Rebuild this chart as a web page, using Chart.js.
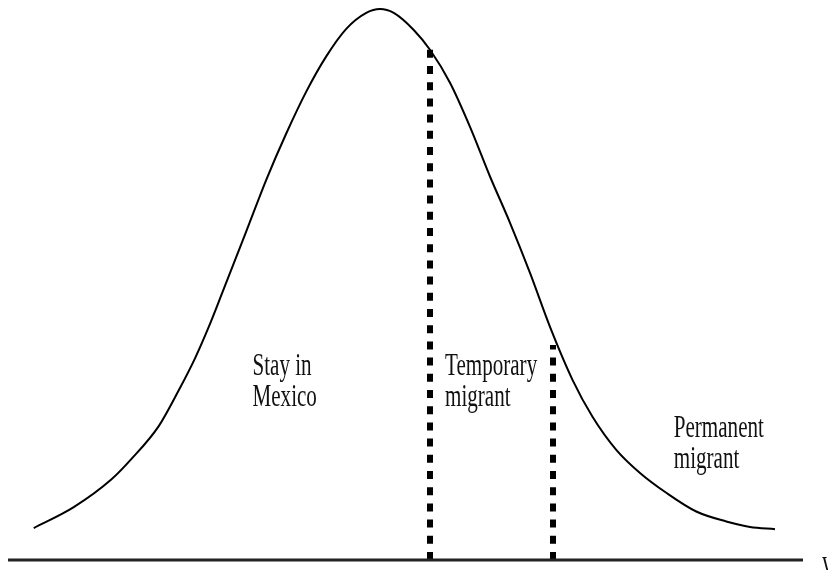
<!DOCTYPE html>
<html>
<head>
<meta charset="utf-8">
<script src="https://cdn.jsdelivr.net/npm/chart.js@4.4.1/dist/chart.umd.min.js"></script>
<style>
  html, body { margin: 0; padding: 0; background: #fff; }
  canvas { display: block; }
</style>
</head>
<body>
<canvas id="migracion" width="828" height="570"></canvas>
<script>
// Distribucion de la propension a migrar (z) y altura relativa de la curva (% del pico)
const curvaZ = [-2.77, -2.45, -2.15, -1.99, -1.77, -1.61, -1.48, -1.37, -1.26, -1.04,
  -0.91, -0.75, -0.59, -0.43, -0.27, -0.11, 0.00, 0.11, 0.27, 0.40,
  0.56, 0.72, 0.88, 1.04, 1.20, 1.36, 1.54, 1.70, 1.89, 2.08,
  2.29, 2.53, 2.77, 2.96, 3.16];
const curvaAltura = [5.8, 9.6, 14.6, 18.3, 24.3, 30.8, 36.6, 42.3, 48.6, 61.4,
  69.0, 77.4, 85.0, 91.4, 96.4, 99.3, 100.0, 99.3, 96.2, 92.6,
  86.6, 78.6, 69.6, 61.2, 52.1, 42.3, 32.7, 26.0, 20.0, 15.8,
  12.2, 8.8, 7.0, 6.0, 5.6];

// umbrales: migrante temporal y migrante permanente
const cortesZ = [0.40, 1.384];
const cortesAltura = [92.9, 39.0];

// eje horizontal
const ejeInicio = -2.976;
const ejeFin = 3.384;

// etiquetas de las zonas (z, altura de la primera linea)
const zonas = [
  { lineas: ['Stay in', 'Mexico'], z: -1.02, h: 33.6 },
  { lineas: ['Temporary', 'migrant'], z: 0.52, h: 33.6 },
  { lineas: ['Permanent', 'migrant'], z: 2.35, h: 22.4 }
];
const etiquetaEje = { texto: 'y', z: 3.536, h: -2.18 };

const puntos = curvaZ.map((z, i) => ({ x: z, y: curvaAltura[i] }));

const cortes = cortesZ.map((z, i) => ({
  data: [{ x: z, y: 0 }, { x: z, y: cortesAltura[i] }],
  borderColor: '#000',
  borderWidth: 6,
  borderDash: [8, 8.2],
  borderCapStyle: 'butt',
  pointRadius: 0,
  tension: 0
}));

// texto serif estrecho
const textoZonas = {
  id: 'textoZonas',
  afterDraw(chart) {
    const { ctx, scales: { x, y } } = chart;
    const escribir = (texto, px, py) => {
      ctx.save();
      ctx.translate(px, py);
      ctx.scale(0.68, 1);
      ctx.fillText(texto, 0, 0);
      ctx.restore();
    };
    ctx.save();
    ctx.font = '31px "Liberation Serif", "Times New Roman", serif';
    ctx.fillStyle = '#111';
    ctx.textBaseline = 'alphabetic';
    ctx.textAlign = 'left';
    zonas.forEach(zona => {
      const px = x.getPixelForValue(zona.z);
      const py = y.getPixelForValue(zona.h);
      zona.lineas.forEach((linea, i) => escribir(linea, px, py + i * 31));
    });
    escribir(etiquetaEje.texto, x.getPixelForValue(etiquetaEje.z), y.getPixelForValue(etiquetaEje.h));
    ctx.restore();
  }
};

new Chart(document.getElementById('migracion').getContext('2d'), {
  type: 'line',
  data: {
    datasets: [
      {
        data: [{ x: ejeInicio, y: 0 }, { x: ejeFin, y: 0 }],
        borderColor: '#222',
        borderWidth: 3,
        pointRadius: 0
      },
      ...cortes,
      {
        data: puntos,
        borderColor: '#000',
        borderWidth: 2,
        pointRadius: 0,
        cubicInterpolationMode: 'monotone'
      }
    ]
  },
  options: {
    responsive: false,
    animation: false,
    layout: { padding: 0 },
    plugins: { legend: { display: false }, tooltip: { enabled: false } },
    scales: {
      x: { type: 'linear', min: -3.04, max: 3.584, display: false },
      y: { type: 'linear', min: -1.815, max: 101.633, display: false }
    }
  },
  plugins: [textoZonas]
});
</script>
</body>
</html>
